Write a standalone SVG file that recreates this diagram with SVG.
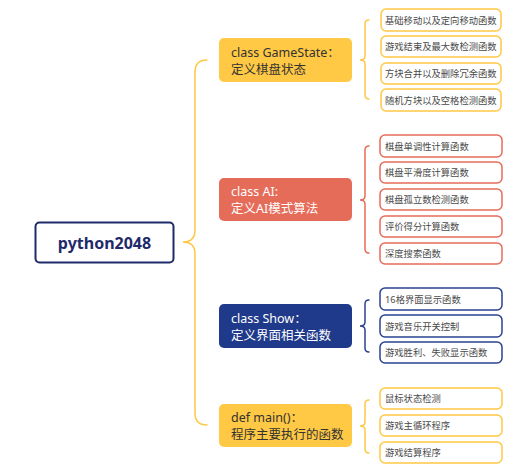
<svg xmlns="http://www.w3.org/2000/svg" width="521" height="469" viewBox="0 0 521 469">
<style>
.bg{fill:#ffffff}
.main{font-family:"Noto Sans","Noto Sans CJK SC",sans-serif;font-size:12.5px}
.sub{font-family:"Noto Sans","Noto Sans CJK SC",sans-serif;font-size:9.3px;fill:#4a4a4a}
.leafY{fill:#ffffff;stroke:#FFC845;stroke-width:1.5}
.leafR{fill:#ffffff;stroke:#E66C5A;stroke-width:1.5}
.leafB{fill:#ffffff;stroke:#2A4390;stroke-width:1.5}
.br{fill:none;stroke-width:1.5;stroke-linecap:round}
</style>
<rect class="bg" x="0" y="0" width="521" height="469"/>
<g id="connectors">
<path class="br" stroke="#FFC845" stroke-width="2" d="M207,60 Q195,60 195,72 L195,230 Q195,242 183,242 Q195,242 195,254 L195,413 Q195,425 207,425"/>
<path class="br" stroke="#FFC845" d="M369,20 Q365,20 365,24 L365,56 Q365,60 360,60 Q365,60 365,64 L365,95 Q365,99 369,99"/>
<path class="br" stroke="#E66C5A" d="M369,146 Q365,146 365,150 L365,196 Q365,200 360,200 Q365,200 365,204 L365,249 Q365,253 369,253"/>
<path class="br" stroke="#2A4390" d="M369,300 Q365,300 365,304 L365,322 Q365,326 360,326 Q365,326 365,330 L365,348 Q365,352 369,352"/>
<path class="br" stroke="#FFC845" d="M369,400 Q365,400 365,404 L365,422 Q365,426 360,426 Q365,426 365,430 L365,449 Q365,453 369,453"/>
</g>
<g id="root">
<rect x="35.5" y="222.5" width="138" height="40" rx="4" fill="#ffffff" stroke="#1F2A6B" stroke-width="2"/>
<text x="104.5" y="248.5" text-anchor="middle" font-family="'Noto Sans',sans-serif" font-weight="bold" font-size="16" fill="#1F2A6B">python2048</text>
</g>
<g id="gamestate">
<rect x="219" y="38" width="133" height="44" rx="5" fill="#FFC845"/>
<text class="main" fill="#333333"><tspan x="231" y="57">class GameState：</tspan><tspan x="231" y="74">定义棋盘状态</tspan></text>
</g>
<g id="ai">
<rect x="219" y="178" width="133" height="43" rx="5" fill="#E66C5A"/>
<text class="main" fill="#ffffff"><tspan x="231" y="196">class AI:</tspan><tspan x="231" y="213">定义AI模式算法</tspan></text>
</g>
<g id="show">
<rect x="219" y="304" width="133" height="44" rx="5" fill="#1F3A8A"/>
<text class="main" fill="#ffffff"><tspan x="231" y="323">class Show：</tspan><tspan x="231" y="340">定义界面相关函数</tspan></text>
</g>
<g id="main">
<rect x="219" y="404" width="133" height="43" rx="5" fill="#FFC845"/>
<text class="main" fill="#333333"><tspan x="231" y="422">def main()：</tspan><tspan x="231" y="439">程序主要执行的函数</tspan></text>
</g>
<g id="gs1"><rect class="leafY" x="381" y="9" width="120" height="22" rx="5"/><text class="sub" x="385" y="23.5">基础移动以及定向移动函数</text></g>
<g id="gs2"><rect class="leafY" x="381" y="36" width="120" height="21" rx="5"/><text class="sub" x="385" y="50">游戏结束及最大数检测函数</text></g>
<g id="gs3"><rect class="leafY" x="381" y="63" width="120" height="21" rx="5"/><text class="sub" x="385" y="77">方块合并以及删除冗余函数</text></g>
<g id="gs4"><rect class="leafY" x="381" y="89" width="120" height="22" rx="5"/><text class="sub" x="385" y="103.5">随机方块以及空格检测函数</text></g>
<g id="ai1"><rect class="leafR" x="380" y="135" width="122" height="22" rx="5"/><text class="sub" x="385" y="149.5">棋盘单调性计算函数</text></g>
<g id="ai2"><rect class="leafR" x="380" y="162" width="122" height="21" rx="5"/><text class="sub" x="385" y="176">棋盘平滑度计算函数</text></g>
<g id="ai3"><rect class="leafR" x="380" y="189" width="122" height="21" rx="5"/><text class="sub" x="385" y="203">棋盘孤立数检测函数</text></g>
<g id="ai4"><rect class="leafR" x="380" y="216" width="122" height="21" rx="5"/><text class="sub" x="385" y="230">评价得分计算函数</text></g>
<g id="ai5"><rect class="leafR" x="380" y="243" width="122" height="21" rx="5"/><text class="sub" x="385" y="257">深度搜索函数</text></g>
<g id="sh1"><rect class="leafB" x="380" y="288" width="122" height="22" rx="5"/><text class="sub" x="385" y="302.5">16格界面显示函数</text></g>
<g id="sh2"><rect class="leafB" x="380" y="315" width="122" height="22" rx="5"/><text class="sub" x="385" y="329.5">游戏音乐开关控制</text></g>
<g id="sh3"><rect class="leafB" x="380" y="342" width="122" height="21" rx="5"/><text class="sub" x="385" y="356">游戏胜利、失败显示函数</text></g>
<g id="m1"><rect class="leafY" x="380" y="388" width="122" height="21" rx="5"/><text class="sub" x="385" y="402">鼠标状态检测</text></g>
<g id="m2"><rect class="leafY" x="380" y="415" width="122" height="21" rx="5"/><text class="sub" x="385" y="429">游戏主循环程序</text></g>
<g id="m3"><rect class="leafY" x="380" y="442" width="122" height="21" rx="5"/><text class="sub" x="385" y="456">游戏结算程序</text></g>
</svg>
